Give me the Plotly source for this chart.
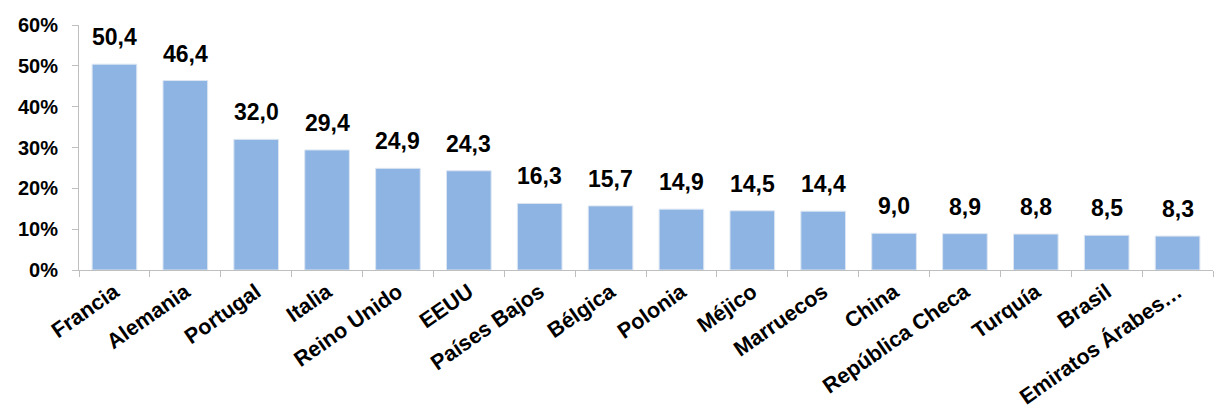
import plotly.graph_objects as go

countries = ["Francia", "Alemania", "Portugal", "Italia", "Reino Unido", "EEUU",
             "Países Bajos", "Bélgica", "Polonia", "Méjico", "Marruecos", "China",
             "República Checa", "Turquía", "Brasil", "Emiratos Árabes…"]
shares = [50.4, 46.4, 32.0, 29.4, 24.9, 24.3, 16.3, 15.7, 14.9, 14.5, 14.4,
          9.0, 8.9, 8.8, 8.5, 8.3]
y_ticks = [0, 10, 20, 30, 40, 50, 60]

FONT = "Liberation Sans, Arial, sans-serif"

fig = go.Figure(go.Bar(
    x=countries,
    y=shares,
    width=0.63,
    marker=dict(color="#8EB4E3", line=dict(color="#DCE6F2", width=1)),
    hoverinfo="x+y",
))

# value labels above each bar, Spanish decimal comma
for c, v in zip(countries, shares):
    fig.add_annotation(
        x=c, y=v, xref="x", yref="y",
        text="<b>" + f"{v:.1f}".replace(".", ",") + "</b>",
        showarrow=False, yanchor="bottom", yshift=12,
        font=dict(family=FONT, size=23, color="#000000"),
    )

fig.update_layout(
    width=1217,
    height=410,
    margin=dict(l=79, r=4, t=25, b=140),
    paper_bgcolor="white",
    plot_bgcolor="white",
    showlegend=False,
)

fig.update_xaxes(
    type="category",
    tickangle=-35,
    tickvals=countries,
    ticktext=[f"<b>{c}</b>" for c in countries],
    tickfont=dict(family=FONT, size=21.5, color="#000000"),
    showline=True,
    linecolor="#BFBFBF",
    linewidth=1,
    ticks="outside",
    tickson="boundaries",
    ticklen=6,
    tickcolor="#BFBFBF",
    showgrid=False,
    automargin=False,
)

fig.update_yaxes(
    range=[0, 60],
    tickvals=y_ticks,
    ticktext=[f"<b>{v}%</b>" for v in y_ticks],
    tickfont=dict(family=FONT, size=20, color="#000000"),
    showline=True,
    linecolor="#BFBFBF",
    linewidth=1,
    ticks="outside",
    ticklen=6,
    tickcolor="#BFBFBF",
    ticklabelstandoff=10,
    showgrid=False,
    zeroline=False,
    automargin=False,
)

fig.write_html("out.html")
